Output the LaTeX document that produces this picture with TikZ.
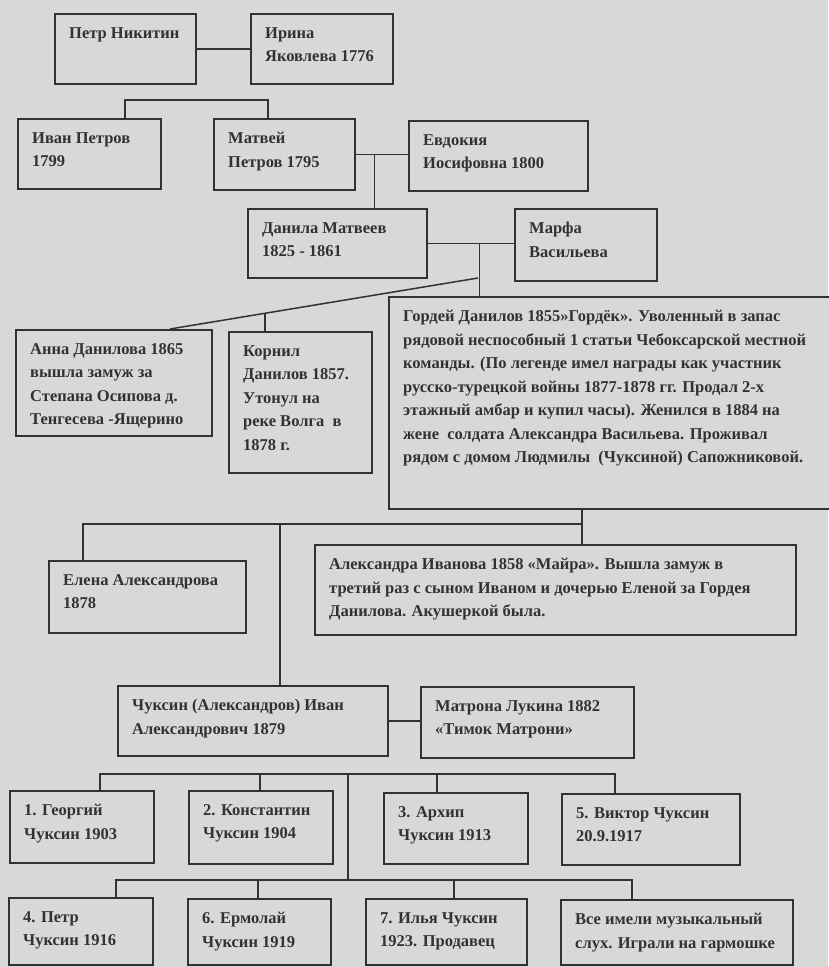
\documentclass[tikz,border=0pt]{standalone}
\usepackage{fontspec}
\setmainfont{Liberation Serif}
\usetikzlibrary{calc}
\definecolor{paper}{RGB}{216,216,216}
\definecolor{ink}{RGB}{50,50,50}
\tikzset{
  pbox/.style={draw=ink, line width=1.7pt, fill=paper, inner sep=0pt, anchor=north west},
  ptext/.style={text=ink, font=\fontsize{16.5}{23.5}\selectfont\bfseries, align=left, inner sep=0pt, anchor=north west},
  link/.style={draw=ink, line width=1.5pt},
}
\newcommand{\famb}[6]{%
  \node[pbox, minimum width={(#4-#2)*1pt}, minimum height={(#5-#3)*1pt}] (#1) at (#2,#3) {};
  \node[ptext] (#1t) at ([shift={(15pt,-14pt)}]#1.north west) {#6};
}
\begin{document}
\begin{tikzpicture}[x=1pt,y=-1pt]
\fill[paper] (0,0) rectangle (828,967);
\useasboundingbox (0,0) rectangle (828,967);
\famb{petr}{54}{13}{195}{83}{Петр Никитин}
\famb{irina}{250}{13}{392}{83}{Ирина\\Яковлева 1776}
\famb{ivan}{17}{118}{160}{188}{Иван Петров\\1799}
\famb{matvey}{213}{118}{354}{189}{Матвей\\Петров 1795}
\famb{evdokia}{408}{120}{587}{190}{Евдокия\\Иосифовна 1800}
\famb{danila}{247}{208}{426}{277}{Данила Матвеев\\1825 - 1861}
\famb{marfa}{514}{208}{656}{280}{Марфа\\Васильева}
\famb{anna}{15}{329}{211}{435}{Анна Данилова 1865\\вышла замуж за\\Степана Осипова д.\\Тенгесева -Ящерино}
\famb{korneil}{228}{331}{371}{472}{Корнил\\Данилов 1857.\\Утонул на\\реке Волга\ \ в\\1878 г.}
\famb{gordey}{388}{296}{845}{508}{Гордей Данилов 1855»Гордёк». Уволенный в запас\\рядовой неспособный 1 статьи Чебоксарской местной\\команды. (По легенде имел награды как участник\\русско-турецкой войны 1877-1878 гг. Продал 2-х\\этажный амбар и купил часы). Женился в 1884 на\\жене\ \ солдата Александра Васильева. Проживал\\рядом с домом Людмилы\ \ (Чуксиной) Сапожниковой.}
\famb{elena}{48}{560}{245}{632}{Елена Александрова\\1878}
\famb{alex}{314}{544}{795}{634}{Александра Иванова 1858 «Майра». Вышла замуж в\\третий раз с сыном Иваном и дочерью Еленой за Гордея\\Данилова. Акушеркой была.}
\famb{chuksin}{117}{685}{387}{755}{Чуксин (Александров) Иван\\Александрович 1879}
\famb{matrona}{420}{686}{633}{757}{Матрона Лукина 1882\\«Тимок Матрони»}
\famb{georgy}{9}{790}{153}{862}{1. Георгий\\Чуксин 1903}
\famb{konst}{188}{790}{332}{863}{2. Константин\\Чуксин 1904}
\famb{arkhip}{383}{792}{527}{863}{3. Архип\\Чуксин 1913}
\famb{viktor}{561}{793}{739}{864}{5. Виктор Чуксин\\20.9.1917}
\famb{petrc}{8}{897}{152}{964}{4. Петр\\Чуксин 1916}
\famb{ermolay}{187}{898}{330}{964}{6. Ермолай\\Чуксин 1919}
\famb{ilya}{365}{898}{526}{964}{7. Илья Чуксин\\1923. Продавец}
\famb{vse}{560}{899}{792}{964}{Все имели музыкальный\\слух. Играли на гармошке}
% connectors
\draw[link] (petr.east) -- (irina.west);
\coordinate (b1l) at (125,100);
\coordinate (b1r) at (268,100);
\draw[link] (b1l |- ivan.north) -- (b1l) -- (b1r) -- (b1r |- matvey.north);
\draw[link] (matvey.east) -- (matvey.east -| evdokia.west);
\coordinate (m1) at ($(matvey.east)+(19,0)$);
\draw[link] (m1) -- (m1 |- danila.north);
\draw[link] (danila.east) -- (danila.east -| marfa.west);
\coordinate (m2) at ($(danila.east)+(52,0)$);
\draw[link] (m2) -- (m2 |- gordey.north);
\coordinate (d1) at (478,278);
\coordinate (d2) at ($(anna.north west)+(155,0)$);
\draw[link] (d1) -- (d2);
\coordinate (kd) at ($(d1)!0.6916!(d2)$);
\draw[link] (kd) -- (kd |- korneil.north);
\coordinate (b2l) at (83,524);
\coordinate (b2r) at (582,524);
\coordinate (b2m) at (280,524);
\draw[link] (b2l |- elena.north) -- (b2l) -- (b2r);
\draw[link] (b2r |- gordey.south) -- (b2r |- alex.north);
\draw[link] (b2m) -- (b2m |- chuksin.north);
\draw[link] (chuksin.east) -- (chuksin.east -| matrona.west);
\coordinate (b3l) at (100,774);
\coordinate (b3r) at (615,774);
\coordinate (b3a) at (260,774);
\coordinate (b3b) at (437,774);
\coordinate (b3c) at (348,774);
\draw[link] (b3l |- georgy.north) -- (b3l) -- (b3r) -- (b3r |- viktor.north);
\draw[link] (b3a) -- (b3a |- konst.north);
\draw[link] (b3b) -- (b3b |- arkhip.north);
\coordinate (b4l) at (116,880);
\coordinate (b4r) at (632,880);
\coordinate (b4a) at (258,880);
\coordinate (b4b) at (454,880);
\draw[link] (b3c) -- (b3c |- b4l);
\draw[link] (b4l |- petrc.north) -- (b4l) -- (b4r) -- (b4r |- vse.north);
\draw[link] (b4a) -- (b4a |- ermolay.north);
\draw[link] (b4b) -- (b4b |- ilya.north);
\end{tikzpicture}
\end{document}
